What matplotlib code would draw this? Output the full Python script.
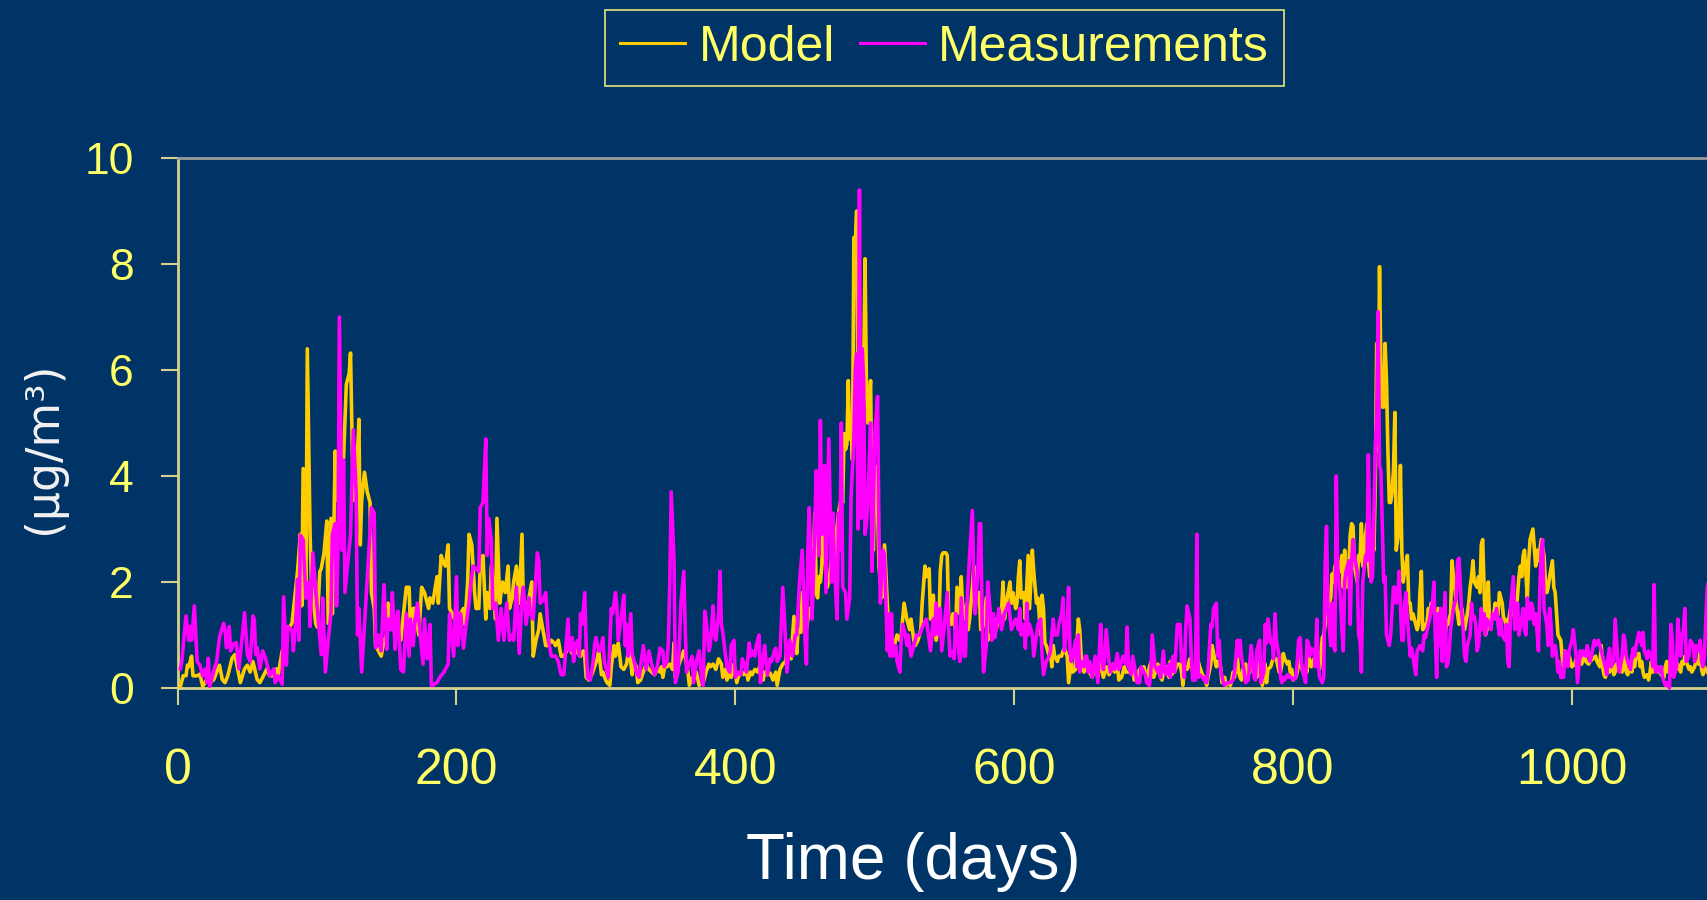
import matplotlib
matplotlib.use("Agg")
import matplotlib.pyplot as plt
import numpy as np

# (day, ug/m3)
model_pts = [
    (2, 0.03), (4, 0.23), (6, 0.23), (7, 0.43), (8, 0.4), (9, 0.5), (10, 0.6), (11, 0.23), (14, 0.23), (16, 0.26),
    (18, 0.03), (21, 0.16), (23, 0.1), (26, 0.16), (28, 0.3), (30, 0.43), (32, 0.16), (34, 0.1), (36, 0.23), (39, 0.56),
    (41, 0.63), (43, 0.36), (45, 0.1), (48, 0.36), (50, 0.43), (52, 0.3), (54, 0.5), (57, 0.16), (59, 0.1), (61, 0.2),
    (64, 0.36), (66, 0.23), (69, 0.23), (71, 0.36), (72, 0.23), (75, 0.7), (77, 0.82), (79, 1.1), (82, 1.22), (84, 1.7),
    (86, 2.2), (88, 2.9), (89, 1.55), (90, 4.14), (92, 1.7), (93, 6.4), (95, 2.9), (96, 1.95), (97, 1.75), (99, 1.22),
    (100, 1.15), (102, 2.2), (103, 2.25), (105, 2.55), (107, 3.15), (108, 1.22), (110, 3.2), (111, 1.4), (113, 4.47),
    (114, 3.54), (116, 4.4), (119, 4.34), (121, 5.73), (123, 5.93), (124, 6.32), (125, 4.87), (126, 3.54), (127, 4.0),
    (128, 3.7), (130, 5.07), (131, 2.7), (132, 3.54), (134, 4.07), (136, 3.7),
    (138, 3.5), (139, 1.8), (141, 1.5), (142, 0.8), (144, 0.7), (146, 0.6), (148, 0.9), (150, 1.0), (151, 1.6), (153, 1.3),
    (155, 1.1), (157, 1.0), (160, 0.9), (162, 1.4), (164, 1.9), (166, 1.9), (167, 1.1), (169, 1.5), (170, 1.5), (173, 1.0),
    (175, 1.9), (177, 1.8), (180, 1.5), (181, 1.7), (183, 1.6), (186, 2.1), (187, 1.6), (189, 2.5), (190, 2.4), (192, 2.3),
    (194, 2.7), (195, 1.5), (197, 1.4), (200, 1.2), (203, 1.4), (205, 1.5), (206, 1.2), (208, 2.0), (209, 2.9), (211, 2.7),
    (213, 1.8), (214, 1.5), (216, 1.5), (217, 2.3), (219, 2.5), (221, 1.3), (222, 1.8), (224, 1.5), (225, 2.3), (227, 1.8),
    (228, 1.3), (229, 3.2), (231, 1.6), (233, 2.0), (235, 1.8), (237, 2.3), (238, 1.5), (240, 1.7), (241, 2.0), (243, 2.3),
    (245, 1.6), (247, 2.9), (248, 1.5), (249, 1.6), (250, 1.4), (252, 1.7), (254, 2.0), (255, 0.6), (257, 0.9), (259, 1.1),
    (260, 1.4), (262, 1.1), (264, 0.8), (266, 0.8), (268, 0.9), (270, 0.85), (271, 0.8), (273, 0.9), (275, 0.6), (277, 0.6),
    (279, 0.7),
    (281, 0.75), (283, 0.65), (285, 0.65), (287, 0.75), (289, 0.6), (291, 0.7), (292, 0.6), (293, 0.2), (295, 0.15),
    (297, 0.25), (299, 0.4), (301, 0.55), (302, 0.7), (304, 0.25), (305, 0.3), (307, 0.15), (308, 0.1), (310, 0.05),
    (311, 0.4), (313, 0.8), (314, 0.6), (316, 0.85), (318, 0.4), (320, 0.35), (322, 0.45), (323, 0.65), (324, 0.7),
    (326, 0.25), (327, 0.5), (329, 0.4), (330, 0.1), (332, 0.15), (334, 0.3), (336, 0.45), (338, 0.35), (340, 0.3),
    (342, 0.25), (344, 0.35), (346, 0.3), (347, 0.4), (348, 0.2), (350, 0.5), (351, 0.4), (353, 0.45), (355, 0.35),
    (356, 0.85), (357, 0.2), (359, 0.4), (361, 0.55), (363, 0.7), (364, 0.6), (366, 0.3), (367, 0.05), (369, 0.2),
    (370, 0.15), (372, 0.3), (374, 0.05), (376, 0.1), (377, 0.1), (379, 0.3), (381, 0.45), (382, 0.4), (384, 0.45),
    (386, 0.35), (388, 0.55), (390, 0.45), (391, 0.2), (393, 0.35), (394, 0.15), (396, 0.3), (397, 0.2), (399, 0.45),
    (401, 0.1), (402, 0.2), (404, 0.3), (406, 0.25), (408, 0.35), (409, 0.15), (411, 0.3), (412, 0.25), (414, 0.35),
    (416, 0.3), (418, 0.45), (420, 0.15), (421, 0.3), (423, 0.25),
    (425, 0.28), (427, 0.15), (429, 0.3), (430, 0.05), (432, 0.35), (434, 0.45), (436, 0.5), (437, 0.75), (439, 0.6),
    (440, 0.55), (442, 1.35), (444, 0.65), (445, 1.1), (447, 1.05), (448, 1.8), (450, 1.2), (451, 1.1), (453, 1.5),
    (455, 1.5), (457, 3.3), (458, 1.8), (459, 1.7), (460, 2.1), (461, 2.0), (462, 2.3), (463, 3.2), (464, 2.6), (466, 1.9),
    (468, 2.2), (469, 2.5), (471, 2.1), (472, 2.8), (474, 3.3), (476, 3.6), (477, 3.5), (478, 4.8), (479, 4.5), (480, 4.6),
    (481, 5.8), (482, 4.7), (483, 4.9), (484, 4.3), (485, 8.5), (486, 8.4), (487, 9.0), (488, 5.0), (490, 5.0), (491, 5.5),
    (492, 5.8), (493, 8.1), (494, 5.7), (495, 5.0), (497, 5.8), (498, 3.3), (499, 2.6), (500, 4.2), (502, 3.5), (503, 2.3),
    (505, 1.7), (506, 1.8), (507, 2.7), (509, 1.6), (510, 1.2), (512, 0.9), (514, 0.8), (516, 1.0), (518, 0.9), (519, 1.0),
    (521, 1.6), (523, 1.3), (525, 1.1), (526, 1.3), (528, 0.9), (529, 0.8), (531, 0.9), (533, 1.1), (534, 1.6), (536, 2.3),
    (537, 2.1), (539, 2.25), (540, 1.3), (542, 1.75), (543, 1.2), (544, 0.9), (546, 1.2), (547, 2.2), (548, 2.5),
    (549, 2.55), (551, 2.55), (552, 2.5), (553, 1.3), (555, 1.2), (556, 1.4), (558, 1.1), (559, 1.9), (561, 1.4),
    (562, 2.1), (563, 1.5), (564, 1.3), (566, 1.6), (567, 1.1),
    (568, 1.3), (570, 1.9), (571, 2.3), (572, 1.5), (573, 1.8), (575, 1.8), (576, 1.1), (577, 1.1), (578, 1.2), (580, 1.7),
    (581, 0.9), (583, 1.0), (585, 1.0), (586, 1.3), (587, 1.1), (589, 1.3), (591, 1.5), (592, 2.0), (593, 1.3), (595, 1.7),
    (597, 2.0), (598, 1.6), (599, 1.8), (601, 1.5), (602, 1.6), (603, 2.1), (604, 2.4), (605, 1.7), (607, 1.8), (608, 1.3),
    (609, 1.9), (610, 2.5), (611, 1.5), (613, 2.6), (614, 2.2), (616, 1.6), (617, 1.7), (619, 1.0), (620, 1.75), (621, 1.5),
    (622, 0.85), (623, 0.8), (625, 0.6), (626, 0.65), (627, 0.4), (628, 0.8), (629, 0.6), (631, 0.5), (632, 0.6),
    (634, 0.6), (635, 0.7), (636, 0.75), (638, 0.6), (639, 0.1), (641, 0.5), (642, 0.3), (644, 0.35), (646, 1.3),
    (647, 1.1), (648, 0.6), (650, 0.3), (651, 0.4), (653, 0.5), (654, 0.3), (656, 0.2), (657, 0.4), (659, 0.3), (660, 0.2),
    (662, 0.8), (663, 0.3), (664, 0.2), (666, 0.4), (668, 0.25), (669, 0.3), (671, 0.45), (672, 0.3), (674, 0.45),
    (675, 0.15), (677, 0.2), (679, 0.4), (680, 0.3), (682, 0.3), (684, 0.35), (685, 0.5), (686, 0.15), (688, 0.2),
    (690, 0.35), (691, 0.3), (693, 0.4), (695, 0.2), (696, 0.25), (697, 0.4), (699, 0.55), (700, 0.2), (702, 0.35),
    (703, 0.45), (705, 0.2), (706, 0.15), (707, 0.3), (709, 0.4), (711, 0.2),
    (712, 0.5), (713, 0.25), (714, 0.4), (715, 0.3), (717, 0.45), (719, 0.45), (720, 0.3), (721, 0.05), (722, 0.35),
    (723, 0.4), (724, 0.35), (726, 0.55), (727, 0.4), (729, 0.25), (730, 0.4), (731, 0.6), (733, 0.4), (735, 0.25),
    (736, 0.2), (737, 0.2), (738, 0.05), (739, 0.2), (741, 0.45), (742, 0.8), (743, 0.65), (745, 0.4), (746, 0.5),
    (748, 0.4), (749, 0.1), (751, 0.2), (752, 0.05), (754, 0.1), (755, 0.05), (756, 0.15), (757, 0.3), (758, 0.2),
    (760, 0.6), (761, 0.3), (762, 0.2), (763, 0.15), (764, 0.35), (766, 0.45), (767, 0.2), (769, 0.3), (770, 0.5),
    (772, 0.45), (773, 0.35), (774, 0.2), (776, 0.5), (778, 0.05), (779, 0.3), (780, 0.45), (781, 0.1), (782, 0.35),
    (784, 0.4), (785, 0.5), (786, 0.55), (788, 0.55), (790, 0.3), (791, 0.3), (792, 0.45), (793, 0.65), (794, 0.55),
    (796, 0.45), (797, 0.5), (798, 0.3), (799, 0.35), (800, 0.15), (802, 0.2), (803, 0.3), (804, 0.5), (805, 0.55),
    (806, 0.4), (807, 0.3), (809, 0.35), (810, 0.3), (811, 0.7), (812, 0.5), (813, 0.4), (815, 0.55), (816, 0.5),
    (817, 0.7), (818, 0.4), (819, 0.35), (821, 0.95), (822, 1.0), (823, 1.2), (824, 1.55), (825, 1.5), (827, 1.7),
    (828, 2.15), (829, 2.0), (830, 2.3), (831, 2.1), (832, 2.4), (834, 2.2), (835, 2.5), (836, 1.9), (837, 2.6),
    (838, 1.9), (840, 2.3), (841, 2.9), (842, 3.1), (843, 3.05), (844, 2.3), (846, 2.0), (847, 2.5), (848, 2.4),
    (849, 3.1), (850, 2.3), (852, 2.9), (853, 3.1), (854, 2.4), (855, 2.1),
    (856, 2.9), (858, 2.6), (859, 3.9), (860, 6.5), (861, 4.5), (862, 7.95), (863, 6.0), (864, 5.3), (865, 5.3),
    (866, 6.5), (867, 5.8), (868, 4.5), (869, 3.5), (870, 3.5), (871, 3.7), (872, 4.1), (873, 5.2), (874, 2.6), (876, 3.0),
    (877, 4.2), (878, 2.6), (879, 2.0), (880, 2.2), (882, 2.5), (883, 1.6), (884, 1.6), (885, 1.3), (886, 1.4), (888, 1.2),
    (889, 1.1), (890, 1.2), (891, 1.8), (892, 2.2), (893, 1.1), (895, 1.2), (896, 1.2), (897, 1.5), (898, 1.4), (899, 1.6),
    (901, 1.5), (902, 1.3), (903, 1.4), (904, 1.5), (905, 1.3), (907, 1.1), (908, 1.3), (909, 1.0), (910, 1.2), (911, 1.2),
    (913, 1.4), (914, 2.4), (915, 2.1), (916, 1.9), (917, 1.6), (919, 1.2), (920, 1.4), (921, 1.5), (922, 1.3), (923, 1.1),
    (925, 1.4), (926, 1.6), (927, 1.9), (928, 2.1), (929, 2.4), (930, 2.0), (932, 1.9), (933, 2.1), (934, 1.8), (935, 2.7),
    (936, 2.8), (938, 1.0), (939, 1.1), (940, 2.0), (941, 1.2), (942, 1.3), (944, 1.4), (945, 1.6), (946, 1.3), (947, 1.4),
    (948, 1.8), (950, 1.6), (951, 1.3), (952, 1.3), (953, 1.1), (954, 1.2), (956, 1.5), (957, 1.7), (958, 1.5), (959, 1.3),
    (960, 1.4), (962, 2.1), (963, 2.3), (964, 2.1), (965, 2.5), (966, 2.6), (968, 1.7), (969, 2.4), (970, 2.8), (971, 2.9),
    (972, 3.0), (974, 2.3), (975, 2.6), (976, 2.4), (977, 2.6), (978, 2.8), (980, 2.5), (981, 2.0), (982, 1.8), (983, 1.9),
    (984, 2.1), (986, 2.4), (987, 1.9), (988, 1.8), (989, 1.4), (990, 1.0), (992, 0.9), (993, 0.6), (994, 0.4), (995, 0.7),
    (996, 0.5), (998, 0.6),
    (999, 0.5), (1000, 0.4), (1002, 0.45), (1003, 0.55), (1005, 0.5), (1006, 0.5), (1007, 0.45), (1009, 0.65),
    (1010, 0.5), (1012, 0.45), (1013, 0.5), (1015, 0.55), (1017, 0.6), (1018, 0.5), (1020, 0.4), (1021, 0.8), (1022, 0.4),
    (1023, 0.25), (1024, 0.2), (1026, 0.35), (1027, 0.3), (1029, 0.5), (1030, 0.25), (1031, 0.3), (1032, 0.45),
    (1033, 0.4), (1035, 0.45), (1036, 0.3), (1037, 0.4), (1038, 0.6), (1039, 0.3), (1040, 0.25), (1042, 0.4), (1043, 0.3),
    (1044, 0.5), (1045, 0.4), (1046, 0.6), (1048, 0.65), (1049, 0.4), (1050, 0.5), (1051, 0.3), (1052, 0.2), (1054, 0.25),
    (1055, 0.15), (1056, 0.3), (1057, 0.5), (1058, 0.3), (1060, 0.35), (1061, 0.4), (1062, 0.3), (1063, 0.35),
    (1064, 0.25), (1066, 0.2), (1067, 0.4), (1068, 0.5), (1069, 0.3), (1070, 0.35), (1072, 0.25), (1073, 0.4), (1074, 0.3),
    (1075, 0.4), (1076, 0.45), (1078, 0.3), (1079, 0.5), (1080, 0.45), (1081, 0.6), (1082, 0.5), (1084, 0.35), (1085, 0.4),
    (1086, 0.3), (1087, 0.35), (1088, 0.4), (1089, 0.5), (1091, 0.45), (1092, 0.8), (1093, 0.35), (1094, 0.25),
    (1095, 0.4), (1097, 0.3),
]

meas_pts = [
    (2, 0.36), (3, 0.5), (6, 1.36), (8, 0.9), (9, 1.16), (10, 0.9), (12, 1.55), (14, 0.5), (16, 0.43), (18, 0.23),
    (20, 0.36), (21, 0.1), (22, 0.56), (23, 0.03), (25, 0.23), (27, 0.43), (28, 0.5), (30, 0.96), (33, 1.22), (34, 1.09),
    (35, 0.76), (37, 1.16), (38, 0.7), (40, 0.83), (42, 0.86), (44, 0.36), (48, 1.42), (50, 0.63), (52, 0.5), (54, 1.36),
    (55, 1.29), (56, 0.63), (57, 0.76), (59, 0.36), (61, 0.7), (63, 0.56), (65, 0.36), (66, 0.23), (69, 0.36), (70, 0.1),
    (72, 0.23), (75, 0.07), (76, 1.72), (78, 0.43), (79, 1.16), (82, 1.09), (83, 0.7), (85, 1.36), (86, 2.05), (87, 0.9),
    (88, 2.88), (90, 2.8), (92, 1.7), (94, 2.0), (95, 1.16), (97, 2.55), (100, 1.55), (103, 0.63), (104, 1.7), (106, 0.3),
    (108, 0.9), (110, 1.42), (111, 2.9), (113, 3.1), (114, 1.55), (115, 2.55), (116, 7.0), (118, 2.6), (119, 4.3),
    (120, 1.8), (124, 2.9), (126, 4.87), (128, 3.7), (129, 1.0), (130, 1.5), (132, 0.3),
    (139, 3.4), (141, 3.3), (142, 0.76), (144, 1.0), (146, 0.7), (148, 1.95), (150, 0.73), (151, 1.3), (153, 1.1),
    (154, 1.8), (156, 0.73), (157, 1.3), (158, 1.45), (160, 0.35), (162, 0.3), (164, 1.4), (166, 0.6), (167, 1.3),
    (169, 0.8), (170, 1.2), (172, 1.6), (174, 1.0), (176, 0.45), (177, 1.3), (179, 0.55), (181, 1.2), (182, 0.05),
    (183, 0.05), (186, 0.1), (188, 0.2), (191, 0.3), (194, 0.45), (195, 1.4), (198, 0.6), (200, 2.1), (201, 0.8),
    (203, 1.4), (205, 0.75), (207, 1.2), (209, 1.6), (210, 1.9), (212, 2.3), (216, 2.2), (217, 3.4), (219, 3.5), (221, 4.7),
    (222, 2.5), (223, 3.2), (225, 2.8), (226, 1.5), (228, 1.6), (230, 0.9), (232, 1.5), (234, 0.9), (236, 1.6), (238, 0.9),
    (240, 1.0), (241, 0.9), (243, 1.9), (245, 0.65), (247, 1.7), (248, 1.9), (250, 1.2), (252, 1.7), (253, 1.4),
    (255, 1.3), (258, 2.55), (259, 2.4), (260, 1.6), (262, 1.65), (264, 1.8), (266, 0.9), (268, 0.6), (271, 0.6),
    (273, 0.5), (275, 0.25), (277, 0.25), (278, 0.6), (280, 1.3),
    (281, 0.7), (283, 0.95), (284, 0.5), (285, 0.8), (287, 0.9), (288, 0.6), (289, 1.4), (290, 1.2), (292, 1.8),
    (293, 0.8), (294, 0.2), (296, 0.15), (298, 0.5), (299, 0.8), (300, 0.95), (302, 0.7), (303, 0.7), (305, 0.95),
    (306, 0.5), (308, 0.3), (309, 0.2), (311, 1.5), (312, 1.4), (314, 1.8), (315, 1.55), (316, 0.9), (318, 1.3),
    (320, 1.75), (321, 0.8), (322, 1.2), (323, 0.6), (325, 1.4), (326, 0.65), (328, 0.45), (329, 0.3), (331, 0.2),
    (333, 0.6), (334, 0.8), (336, 0.35), (338, 0.7), (340, 0.45), (342, 0.25), (344, 0.4), (346, 0.75), (348, 0.7),
    (349, 0.4), (351, 0.5), (352, 0.9), (353, 2.0), (354, 3.7), (356, 2.4), (357, 0.1), (359, 0.3), (361, 1.6), (363, 2.2),
    (364, 1.2), (365, 0.3), (367, 0.45), (369, 0.6), (370, 0.1), (372, 0.5), (374, 0.7), (376, 0.1), (377, 0.05),
    (378, 1.45), (379, 1.3), (381, 0.7), (382, 0.8), (384, 1.55), (385, 1.0), (386, 0.9), (388, 1.4), (389, 2.2),
    (390, 1.2), (391, 1.05), (393, 0.6), (394, 0.4), (396, 0.3), (397, 0.8), (399, 0.9), (400, 0.2), (402, 0.3),
    (404, 0.25), (405, 0.55), (407, 0.4), (408, 0.3), (410, 0.85), (411, 0.6), (412, 0.7), (414, 0.6), (415, 0.8),
    (417, 1.0), (418, 0.1), (420, 0.6), (421, 0.8), (423, 0.25),
    (425, 0.55), (426, 0.5), (428, 0.7), (429, 0.75), (430, 0.5), (432, 0.6), (434, 1.9), (436, 0.9), (437, 0.3),
    (439, 0.9), (441, 0.6), (443, 1.0), (444, 1.0), (446, 2.0), (448, 2.6), (449, 1.8), (450, 0.9), (451, 0.45),
    (452, 2.6), (453, 3.4), (455, 1.3), (456, 2.1), (458, 4.1), (459, 3.2), (460, 2.5), (461, 5.05), (462, 2.9),
    (464, 4.2), (465, 1.8), (466, 3.2), (467, 4.7), (469, 2.0), (470, 3.3), (471, 2.3), (473, 1.3), (474, 3.3), (475, 2.6),
    (476, 5.0), (477, 1.9), (479, 1.8), (480, 1.3), (482, 1.7), (483, 3.6), (485, 4.7), (486, 6.0), (487, 6.3), (488, 3.0),
    (489, 9.4), (490, 3.2), (491, 6.4), (492, 5.8), (493, 2.9), (494, 3.1), (495, 3.5), (497, 5.0), (498, 2.2), (499, 3.4),
    (500, 4.8), (502, 5.5), (503, 3.0), (504, 1.6), (505, 2.2), (506, 2.6), (507, 2.5), (509, 0.7), (510, 1.4), (511, 0.6),
    (512, 1.4), (513, 0.6), (515, 0.8), (516, 0.5), (518, 0.3), (519, 0.9), (520, 1.2), (522, 1.0), (523, 0.8), (524, 1.0),
    (526, 0.6), (528, 0.8), (530, 1.0), (532, 1.0), (535, 1.2), (537, 1.3), (540, 0.7), (542, 1.3), (543, 1.0), (544, 1.6),
    (546, 1.0), (547, 1.5), (548, 0.7), (550, 1.2), (552, 1.8), (553, 1.1), (554, 0.6), (555, 0.7), (557, 0.55),
    (558, 1.4), (559, 1.0), (561, 0.5), (562, 1.7), (564, 0.6), (565, 0.6), (566, 1.5), (568, 2.5),
    (570, 3.35), (571, 2.0), (572, 1.4), (574, 2.2), (575, 3.1), (576, 3.1), (577, 1.3), (578, 0.3), (580, 0.8),
    (581, 2.0), (583, 1.4), (584, 0.9), (585, 1.4), (586, 0.95), (587, 1.1), (589, 1.5), (591, 1.1), (593, 1.4),
    (596, 1.6), (598, 1.1), (601, 1.3), (603, 1.1), (604, 1.5), (605, 1.0), (607, 1.2), (608, 0.75), (609, 1.6),
    (610, 1.0), (611, 1.2), (613, 1.0), (614, 0.6), (616, 1.0), (617, 1.2), (619, 1.3), (620, 0.6), (621, 0.25),
    (623, 0.5), (625, 0.6), (626, 0.7), (628, 1.3), (629, 1.0), (631, 1.0), (632, 1.2), (634, 1.4), (635, 1.7), (636, 0.7),
    (638, 1.2), (639, 1.9), (640, 0.7), (641, 0.5), (642, 0.6), (644, 0.9), (645, 0.4), (646, 1.0), (647, 0.3), (648, 0.5),
    (650, 0.4), (651, 0.6), (652, 0.6), (653, 0.3), (654, 0.5), (656, 0.2), (658, 0.6), (660, 0.1), (662, 1.2), (663, 0.6),
    (664, 0.35), (665, 0.6), (666, 1.1), (668, 0.5), (669, 0.3), (671, 0.45), (672, 0.35), (674, 0.65), (675, 0.35),
    (676, 0.4), (678, 0.6), (680, 0.45), (681, 1.15), (682, 0.4), (684, 0.25), (685, 0.6), (687, 0.3), (688, 0.1),
    (690, 0.1), (691, 0.4), (692, 0.35), (694, 0.25), (695, 0.1), (697, 0.05), (698, 0.3), (699, 1.0), (701, 0.4),
    (703, 0.3), (704, 0.4), (705, 0.2), (707, 0.7), (708, 0.3), (709, 0.25), (711, 0.45),
    (712, 0.2), (713, 0.5), (714, 0.6), (715, 0.3), (717, 1.2), (719, 1.2), (720, 0.5), (721, 0.7), (722, 0.2), (723, 1.1),
    (724, 1.55), (726, 1.3), (727, 0.6), (728, 0.15), (730, 0.15), (731, 2.9), (732, 0.2), (733, 0.25), (735, 0.2),
    (736, 0.15), (737, 0.2), (738, 0.1), (739, 0.3), (741, 1.2), (742, 1.15), (743, 1.5), (745, 1.6), (746, 0.6),
    (747, 0.9), (748, 0.35), (750, 0.1), (751, 0.05), (753, 0.1), (755, 0.1), (757, 0.15), (758, 0.3), (760, 0.9),
    (761, 0.6), (762, 0.9), (763, 0.6), (765, 0.3), (766, 0.1), (768, 0.15), (769, 0.5), (770, 0.8), (772, 0.2),
    (773, 0.15), (774, 0.7), (776, 0.9), (777, 0.1), (779, 0.3), (780, 1.2), (781, 0.85), (782, 1.3), (784, 0.85),
    (785, 0.9), (786, 0.55), (787, 1.4), (788, 0.9), (790, 0.6), (791, 0.2), (792, 0.1), (793, 0.2), (794, 0.15),
    (796, 0.25), (797, 0.2), (799, 0.2), (800, 0.15), (802, 0.2), (803, 0.5), (804, 0.9), (805, 0.95), (806, 0.5),
    (807, 0.3), (809, 0.1), (810, 0.9), (811, 0.85), (812, 0.6), (813, 0.75), (815, 0.7), (816, 0.4), (817, 1.3),
    (818, 0.5), (819, 0.2), (821, 0.1), (822, 0.2), (823, 2.35), (824, 3.05), (825, 1.5), (827, 0.8), (828, 1.6),
    (829, 0.8), (830, 0.7), (831, 4.0), (832, 2.3), (834, 1.7), (835, 1.1), (836, 0.7), (837, 2.0), (838, 2.2), (840, 2.4),
    (841, 1.2), (842, 2.4), (843, 2.8), (844, 2.5), (846, 2.2), (847, 1.0), (848, 0.9), (849, 0.3), (850, 2.0), (852, 2.5),
    (853, 2.4), (854, 4.4), (855, 3.0),
    (856, 2.0), (857, 2.1), (859, 4.5), (860, 5.2), (861, 7.1), (862, 4.2), (863, 4.1), (865, 2.0), (866, 2.1), (867, 1.0),
    (868, 0.9), (869, 0.8), (870, 1.0), (872, 1.9), (873, 1.9), (874, 1.6), (875, 1.7), (876, 2.2), (878, 0.9), (879, 0.9),
    (880, 1.6), (881, 1.8), (882, 1.3), (884, 0.6), (885, 0.75), (886, 0.6), (887, 0.4), (888, 0.25), (889, 0.7),
    (891, 0.8), (892, 0.75), (893, 0.7), (894, 1.0), (895, 0.95), (897, 1.2), (898, 1.3), (899, 1.5), (900, 1.6),
    (901, 2.0), (902, 1.0), (903, 0.2), (904, 1.4), (905, 0.8), (906, 1.5), (907, 0.5), (909, 1.8), (910, 0.4),
    (911, 0.45), (912, 0.7), (913, 1.1), (915, 1.5), (916, 1.6), (917, 1.7), (918, 2.4), (919, 2.45), (921, 1.4),
    (922, 1.1), (923, 0.6), (924, 0.5), (925, 0.8), (927, 1.0), (928, 1.6), (929, 1.3), (930, 1.35), (931, 1.2),
    (932, 0.7), (933, 0.8), (935, 1.5), (936, 1.1), (937, 1.4), (938, 1.0), (939, 1.3), (941, 1.2), (942, 1.1), (943, 1.4),
    (944, 1.3), (946, 1.5), (947, 1.2), (948, 1.0), (949, 1.3), (950, 1.0), (952, 0.9), (953, 1.2), (954, 0.5), (955, 0.4),
    (956, 1.5), (958, 2.1), (959, 1.1), (960, 1.2), (961, 1.6), (962, 1.0), (964, 1.3), (965, 1.5), (966, 1.1), (967, 1.0),
    (968, 1.7), (970, 1.3), (971, 1.6), (972, 1.5), (973, 1.2), (974, 1.4), (976, 0.7), (977, 1.9), (978, 2.6), (979, 2.8),
    (980, 1.5), (982, 1.2), (983, 0.8), (984, 1.5), (985, 1.2), (986, 0.6), (988, 0.8), (989, 0.6), (990, 0.3), (991, 0.5),
    (992, 0.2), (994, 0.2), (995, 0.7), (996, 0.6), (997, 0.4), (998, 0.7),
    (1000, 0.9), (1001, 1.1), (1003, 0.6), (1004, 0.1), (1006, 0.7), (1007, 0.6), (1008, 0.7), (1010, 0.6), (1011, 0.8),
    (1013, 0.5), (1014, 0.6), (1016, 0.9), (1017, 0.8), (1019, 0.9), (1020, 0.8), (1021, 0.7), (1022, 0.6), (1024, 0.4),
    (1025, 0.25), (1026, 0.6), (1027, 0.75), (1028, 0.4), (1030, 0.5), (1031, 1.3), (1032, 0.9), (1033, 0.5), (1034, 0.3),
    (1036, 0.6), (1037, 1.0), (1038, 0.9), (1039, 0.6), (1040, 0.5), (1042, 0.35), (1043, 0.6), (1044, 0.75), (1045, 0.6),
    (1046, 0.8), (1048, 1.05), (1049, 0.9), (1050, 0.8), (1051, 1.05), (1052, 0.7), (1054, 0.55), (1055, 0.7),
    (1056, 0.6), (1057, 0.6), (1058, 0.4), (1059, 1.95), (1060, 0.3), (1062, 0.4), (1063, 0.3), (1064, 0.4), (1065, 0.2),
    (1067, 0.05), (1068, 0.1), (1070, 0.0), (1071, 1.2), (1072, 0.9), (1073, 0.2), (1075, 0.4), (1076, 1.3), (1077, 0.9),
    (1078, 0.6), (1079, 1.0), (1080, 1.1), (1081, 1.5), (1082, 0.5), (1084, 0.6), (1085, 0.9), (1087, 0.8), (1088, 0.5),
    (1089, 0.8), (1091, 0.7), (1092, 0.9), (1093, 0.5), (1094, 0.4), (1095, 0.6), (1097, 1.9), (1098, 2.0),
]

x_ticks = [0, 200, 400, 600, 800, 1000]
y_ticks = [0, 2, 4, 6, 8, 10]

BG = "#003366"
YELLOW = "#FFFF66"
GOLD = "#FFCC00"
MAGENTA = "#FF00FF"
AXIS = "#D6D28C"
FONT = "Liberation Sans"

model = np.array(model_pts)
meas = np.array(meas_pts)

fig = plt.figure(figsize=(17.08, 9), dpi=100, facecolor=BG)
ax = fig.add_axes([0.104, 0.2356, 0.896, 0.5888])
ax.set_facecolor(BG)

ax.plot(model[:, 0], model[:, 1], color=GOLD, lw=2.6, label="Model", zorder=3, clip_on=False)
ax.plot(meas[:, 0], meas[:, 1], color=MAGENTA, lw=2.6, label="Measurements", zorder=4, clip_on=False)

ax.set_xlim(0, 1097.6)
ax.set_ylim(0, 10)
ax.set_xticks(x_ticks)
ax.set_yticks(y_ticks)

ax.spines["right"].set_visible(False)
ax.spines["top"].set_color("#9A9A9A")
ax.spines["top"].set_linewidth(2)
ax.spines["bottom"].set_color(AXIS)
ax.spines["bottom"].set_linewidth(2)
ax.spines["left"].set_color(AXIS)
ax.spines["left"].set_linewidth(2)

ax.tick_params(axis="both", direction="out", length=12.5, width=1.5, color=AXIS, labelcolor=YELLOW)
ax.tick_params(axis="x", labelsize=36, pad=31)
ax.tick_params(axis="y", labelsize=32, pad=19)
for lab in ax.get_xticklabels() + ax.get_yticklabels():
    lab.set_fontfamily(FONT)

fig.text(0.5345, 1 - 862 / 900, "Time (days)", color="white", fontsize=46,
         family=FONT, ha="center", va="center")
fig.text(44 / 1708, 1 - 448 / 900, "(\u00b5g/m\u00b3)", color="#F2F2F2", fontsize=33,
         family="DejaVu Sans", rotation=90, ha="center", va="center")

leg = fig.legend(loc="center", bbox_to_anchor=(0.553, 0.947), ncol=2, frameon=True,
                 fancybox=False, facecolor=BG, edgecolor="#E8E47A", framealpha=1,
                 prop={"family": FONT, "size": 36}, labelcolor=YELLOW,
                 handlelength=1.3, handletextpad=0.26, columnspacing=0.5,
                 borderpad=0.3, borderaxespad=0)
leg.get_frame().set_linewidth(1.2)
for line in leg.get_lines():
    line.set_linewidth(2.2)

fig.savefig("out.png", dpi=100, facecolor=BG)
